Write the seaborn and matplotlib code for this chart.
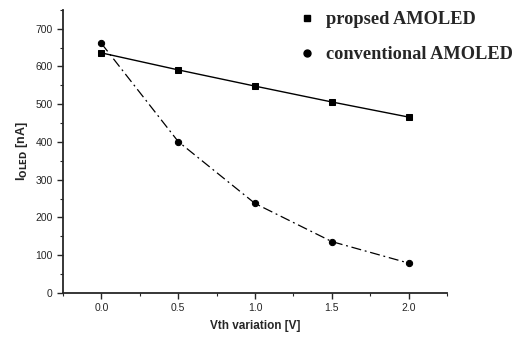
import matplotlib
matplotlib.use("Agg")
import matplotlib.pyplot as plt
import seaborn as sns
import pandas as pd
from matplotlib.ticker import MultipleLocator
from matplotlib.lines import Line2D

vth = [0.0, 0.5, 1.0, 1.5, 2.0]
proposed = [636, 591, 548, 506, 466]
conventional = [661, 401, 237, 136, 79]
series_names = ["propsed AMOLED", "conventional AMOLED"]

sns.set_style("ticks")
plt.rcParams['font.family'] = ['Liberation Sans', 'DejaVu Sans']

df = pd.DataFrame({
    "vth": vth * 2,
    "current": proposed + conventional,
    "series": [series_names[0]] * len(vth) + [series_names[1]] * len(vth),
})

fig = plt.figure(figsize=(5.21, 3.41), dpi=100)
ax = fig.add_axes([0.121, 0.141, 0.737, 0.83])

sns.lineplot(data=df[df.series == series_names[0]], x="vth", y="current", ax=ax,
             color="black", lw=1.0, marker="s", markersize=4.5, markeredgecolor="black",
             linestyle="-", legend=False)
sns.lineplot(data=df[df.series == series_names[1]], x="vth", y="current", ax=ax,
             color="black", lw=0.9, marker="o", markersize=4.5, markeredgecolor="black",
             legend=False, dashes=False)
ax.lines[1].set_linestyle((0, (8, 3, 1.5, 3)))

ax.set_xlim(-0.25, 2.25)
ax.set_ylim(0, 750)
ax.xaxis.set_major_locator(MultipleLocator(0.5))
ax.xaxis.set_minor_locator(MultipleLocator(0.25))
ax.yaxis.set_major_locator(MultipleLocator(100))
ax.yaxis.set_minor_locator(MultipleLocator(50))
ax.set_yticks([0, 100, 200, 300, 400, 500, 600, 700])
ax.set_xticklabels([f"{v:.1f}" for v in ax.get_xticks()])
ax.tick_params(which="major", direction="out", length=4, width=1.0, labelsize=7.5)
ax.tick_params(which="minor", direction="out", length=2.5, width=0.8)
for s in ["top", "right"]:
    ax.spines[s].set_visible(False)
for s in ["left", "bottom"]:
    ax.spines[s].set_linewidth(1.3)

ax.set_xlabel("Vth variation [V]", fontsize=8.5, fontweight="bold", labelpad=5)
ax.set_ylabel(r"I$_{\mathbf{OLED}}$ [nA]", fontsize=9, fontweight="bold", labelpad=4)

handles = [
    Line2D([], [], color="black", marker="s", linestyle="none", markersize=4.5),
    Line2D([], [], color="black", marker="o", linestyle="none", markersize=5),
]
leg = fig.legend(handles, series_names, loc="upper left", bbox_to_anchor=(0.557, 1.0),
                 frameon=False, prop={"family": "Liberation Serif", "weight": "bold", "size": 13.2},
                 handlelength=0.6, handletextpad=0.75, labelspacing=1.0, borderaxespad=0.2)

fig.savefig("out.png", dpi=100)
